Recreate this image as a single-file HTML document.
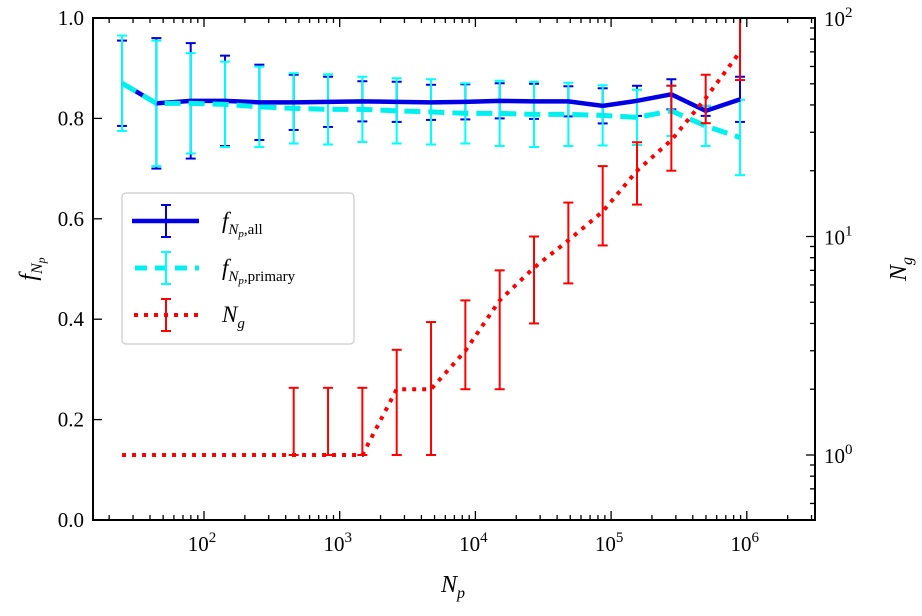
<!DOCTYPE html>
<html><head><meta charset="utf-8"><style>
body{margin:0;background:#fff;}
svg text{font-family:"Liberation Serif",serif;}
</style></head><body>
<svg id="chart" width="922" height="611" xmlns="http://www.w3.org/2000/svg">
<defs><clipPath id="pc"><rect x="93" y="18" width="722" height="502"/></clipPath></defs>
<g id="marks" clip-path="url(#pc)"></g>
<g id="axes"></g>
<text x="453" y="592" font-size="24" font-style="italic" text-anchor="middle">N<tspan dy="6" font-size="16">p</tspan></text>
<text transform="translate(36,269) rotate(-90)" font-size="24" font-style="italic" text-anchor="middle">f<tspan dy="6" font-size="16">N</tspan><tspan dy="3" font-size="12">p</tspan></text>
<text transform="translate(906,269) rotate(-90)" font-size="24" font-style="italic" text-anchor="middle">N<tspan dy="6" font-size="16">g</tspan></text>
<g>
<rect x="122" y="193" width="232" height="151" rx="4" fill="#fff" stroke="#ccc" stroke-width="1.2"/>
<g>
<line x1="132" y1="221" x2="199" y2="221" stroke="#0000e6" stroke-width="4.5"/>
<line x1="166" y1="205" x2="166" y2="237" stroke="#0000e6" stroke-width="2"/><line x1="161" y1="205" x2="171" y2="205" stroke="#0000e6" stroke-width="2"/><line x1="161" y1="237" x2="171" y2="237" stroke="#0000e6" stroke-width="2"/>
<text x="222" y="228" font-size="23" font-style="italic">f<tspan dy="6" font-size="15">N</tspan><tspan dy="3" font-size="11">p</tspan><tspan dy="-3" font-size="15" font-style="normal">,all</tspan></text>
</g>
<g>
<line x1="135" y1="268" x2="199" y2="268" stroke="#00f0f0" stroke-width="5" stroke-dasharray="12 8"/>
<line x1="166" y1="252" x2="166" y2="284" stroke="#00ffff" stroke-width="2"/><line x1="161" y1="252" x2="171" y2="252" stroke="#00ffff" stroke-width="2"/><line x1="161" y1="284" x2="171" y2="284" stroke="#00ffff" stroke-width="2"/>
<text x="222" y="275" font-size="23" font-style="italic">f<tspan dy="6" font-size="15">N</tspan><tspan dy="3" font-size="11">p</tspan><tspan dy="-3" font-size="15" font-style="normal">,primary</tspan></text>
</g>
<g>
<line x1="134" y1="315" x2="199" y2="315" stroke="#ff0000" stroke-width="4" stroke-dasharray="4 6"/>
<line x1="166" y1="299" x2="166" y2="331" stroke="#ff0000" stroke-width="2"/><line x1="161" y1="299" x2="171" y2="299" stroke="#ff0000" stroke-width="2"/><line x1="161" y1="331" x2="171" y2="331" stroke="#ff0000" stroke-width="2"/>
<text x="222" y="322" font-size="23" font-style="italic">N<tspan dy="6" font-size="15">g</tspan></text>
</g>
</g>
</svg>
<script>
const logNp = [1.396,1.649,1.902,2.155,2.408,2.661,2.914,3.167,3.420,3.673,3.926,4.179,4.432,4.685,4.938,5.191,5.444,5.697,5.950];
const fAll = [0.87,0.83,0.835,0.835,0.832,0.832,0.833,0.834,0.833,0.832,0.833,0.835,0.834,0.834,0.825,0.835,0.848,0.815,0.838];
const fAllErr = [0.085,0.13,0.115,0.09,0.075,0.055,0.05,0.04,0.04,0.035,0.035,0.035,0.035,0.03,0.035,0.03,0.03,0.01,0.045];
const fPrim = [0.87,0.83,0.83,0.828,0.823,0.82,0.818,0.818,0.815,0.813,0.81,0.81,0.808,0.808,0.806,0.802,0.815,0.785,0.762];
const fPrimErr = [0.095,0.125,0.1,0.085,0.08,0.07,0.07,0.065,0.065,0.065,0.06,0.065,0.065,0.063,0.06,0.055,0.05,0.04,0.075];
const ng = [1,1,1,1,1,1,1,1,2,2,3,5.1,7.2,9.6,13,20,27.6,43,70];
const ngLo = [1,1,1,1,1,1,1,1,1,1,2,2,4,6.1,9.1,14,20,33,52];
const ngHi = [1,1,1,1,1,2.03,2.03,2.03,3.03,4.06,5.1,7.0,10,14.3,21,27,49,55,130];
const xTicks = [2,3,4,5,6];
const yTicks = [0,0.2,0.4,0.6,0.8,1.0];
const yTickLabels = ["0.0","0.2","0.4","0.6","0.8","1.0"];
const rTicks = [0,1,2];

const NS="http://www.w3.org/2000/svg";
const X = l => 204 + (l-2)*135.7;
const Y = v => 520 - v*502;
const R = v => 455 - Math.log10(v)*218.5;
function el(tag, attrs, parent){const e=document.createElementNS(NS,tag);for(const k in attrs)e.setAttribute(k,attrs[k]);parent.appendChild(e);return e;}
const marks=document.getElementById('marks'), axes=document.getElementById('axes');

function series(vals, yf, color, w, dash, name){
  const p=el('polyline',{points:vals.map((v,i)=>X(logNp[i])+','+yf(v)).join(' '),fill:'none',stroke:color,'stroke-width':w,'stroke-dasharray':dash},marks);
  
  
}
function errs(lo, hi, color, name){
  const g=el('g',{},marks);
  
  
  lo.forEach((l,i)=>{
    const x=X(logNp[i]), y1=lo[i], y2=hi[i];
    if(Math.abs(y1-y2)<0.5) return;
    el('line',{x1:x,x2:x,y1:y1,y2:y2,stroke:color,'stroke-width':2},g);
    el('line',{x1:x-5,x2:x+5,y1:y1,y2:y1,stroke:color,'stroke-width':2},g);
    el('line',{x1:x-5,x2:x+5,y1:y2,y2:y2,stroke:color,'stroke-width':2},g);
  });
}
errs(fAll.map((v,i)=>Y(v-fAllErr[i])), fAll.map((v,i)=>Y(v+fAllErr[i])), '#0000e6', 'f-all-errorbars');
errs(fPrim.map((v,i)=>Y(v-fPrimErr[i])), fPrim.map((v,i)=>Y(v+fPrimErr[i])), '#00ffff', 'f-primary-errorbars');
series(fAll, Y, '#0000e6', 4.5, 'none', 'f-all-line');
series(fPrim, Y, '#00f0f0', 5, '16 8', 'f-primary-line');
errs(ngLo.map(R), ngHi.map(R), '#ff0000', 'ng-errorbars');
series(ng, R, '#ff0000', 4, '4 6', 'ng-line');

const fr=el('rect',{x:93,y:18,width:722,height:502,fill:'none',stroke:'#000','stroke-width':2},axes);


for(let d=1;d<=6;d++){for(let m=1;m<10;m++){const l=d+Math.log10(m);const x=X(l);if(x<93||x>815)continue;const len=m===1?9:5;
  el('line',{x1:x,x2:x,y1:520,y2:520-len,stroke:'#000','stroke-width':1.3},axes);
  el('line',{x1:x,x2:x,y1:18,y2:18+len,stroke:'#000','stroke-width':1.3},axes);}}
xTicks.forEach(t=>{const tx=el('text',{x:X(t)-2,y:551,'font-size':21,'text-anchor':'middle'},axes);
  
  
  tx.innerHTML='10<tspan dy="-9" font-size="15">'+t+'</tspan>';});
yTicks.forEach((t,i)=>{const y=Y(t);el('line',{x1:93,x2:102,y1:y,y2:y,stroke:'#000','stroke-width':1.3},axes);
  const tx=el('text',{x:84,y:y+7,'font-size':21,'text-anchor':'end'},axes);tx.textContent=yTickLabels[i];
  
  });
for(let d=-1;d<=2;d++){for(let m=1;m<10;m++){const v=Math.pow(10,d)*m;const y=R(v);if(y<18||y>520)continue;const len=m===1?9:5;
  el('line',{x1:815,x2:815-len,y1:y,y2:y,stroke:'#000','stroke-width':1.3},axes);}}
rTicks.forEach(t=>{const tx=el('text',{x:824,y:R(Math.pow(10,t))+8,'font-size':21},axes);
  
  
  tx.innerHTML='10<tspan dy="-9" font-size="15">'+t+'</tspan>';});
</script>
</body></html>
